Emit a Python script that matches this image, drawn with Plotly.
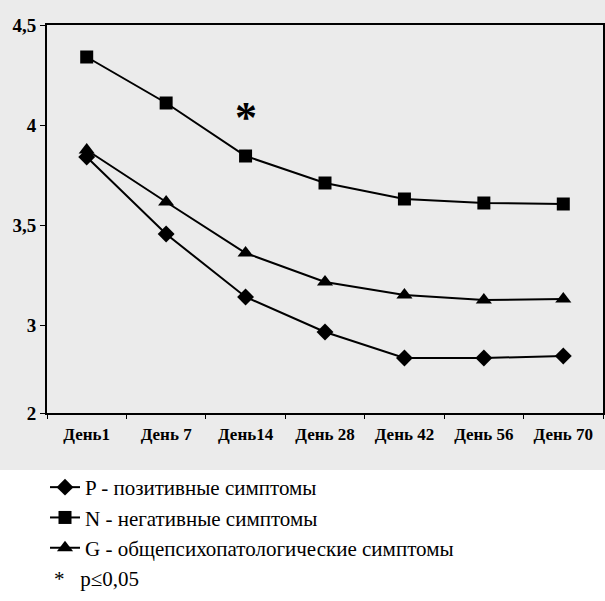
import plotly.graph_objects as go

days = ["День1", "День 7", "День14", "День 28", "День 42", "День 56", "День 70"]
p_vals = [3.84, 3.455, 3.14, 2.965, 2.835, 2.835, 2.845]
n_vals = [4.34, 4.11, 3.845, 3.71, 3.63, 3.61, 3.605]
g_vals = [3.875, 3.615, 3.36, 3.215, 3.15, 3.125, 3.13]
y_tickvals = [2.56, 3, 3.5, 4, 4.5]
y_ticktext = ["2", "3", "3,5", "4", "4,5"]

SERIF = "Liberation Serif, Times New Roman, Times, serif"

series = [
    ("P - позитивные симптомы", p_vals, "diamond", 13),
    ("N - негативные симптомы", n_vals, "square", 13),
    ("G - общепсихопатологические симптомы", g_vals, "triangle-up", 14),
]

fig = go.Figure()
for i, (name, vals, sym, sz) in enumerate(series):
    fig.add_trace(go.Scatter(
        x=days, y=vals, name=name, mode="lines+markers",
        line=dict(color="black", width=2),
        marker=dict(symbol=sym, size=sz, color="black"),
        legendgroup=f"g{i}",
    ))

W, H = 605, 601
ml, mr, mt, mb = 47, 2, 25, 188
pw = W - ml - mr
ph = H - mt - mb

def py(px):
    return (H - mb - px) / ph

def pxx(px):
    return (px - ml) / pw

fig.add_shape(type="rect", xref="paper", yref="paper",
              x0=pxx(0), x1=pxx(W), y0=py(470), y1=py(0),
              fillcolor="#ebebeb", line=dict(width=0), layer="below")

fig.add_annotation(x="День14", y=4.04, text="<b>*</b>", showarrow=False,
                   font=dict(family=SERIF, size=44, color="black"))
fig.add_annotation(xref="paper", yref="paper", x=pxx(52), y=py(579),
                   xanchor="left", yanchor="middle", showarrow=False,
                   text="*&nbsp;&nbsp;&nbsp;p≤0,05",
                   font=dict(family=SERIF, size=21, color="black"))

fig.update_layout(
    width=W, height=H,
    margin=dict(l=ml, r=mr, t=mt, b=mb, autoexpand=False),
    paper_bgcolor="white", plot_bgcolor="rgba(0,0,0,0)",
    showlegend=True,
    font=dict(family=SERIF, color="black"),
    legend=dict(x=pxx(45), y=1 - 467 / H, xanchor="left", yanchor="top",
                yref="container",
                font=dict(family=SERIF, size=21, color="black"),
                bgcolor="rgba(0,0,0,0)", tracegroupgap=0, itemwidth=30),
    xaxis=dict(type="category", range=[-0.5, 6.5], showgrid=False,
               showline=True, linecolor="black", linewidth=2, mirror=True,
               ticks="outside", tickson="boundaries", ticklen=4, tickcolor="black",
               tickfont=dict(family=SERIF, size=17, color="black"),
               ticklabelstandoff=5, automargin=False),
    yaxis=dict(range=[2.56, 4.5], showgrid=False, zeroline=False,
               showline=True, linecolor="black", linewidth=2, mirror=True,
               tickvals=y_tickvals, ticktext=[f"<b>{t}</b>" for t in y_ticktext],
               ticks="outside", ticklen=5, tickcolor="black",
               tickfont=dict(family=SERIF, size=19, color="black"), automargin=False),
)
fig.update_xaxes(ticktext=[f"<b>{d}</b>" for d in days], tickvals=days)

fig.write_html("out.html", config={"displayModeBar": False},
               post_script="document.body.style.margin='0';")
